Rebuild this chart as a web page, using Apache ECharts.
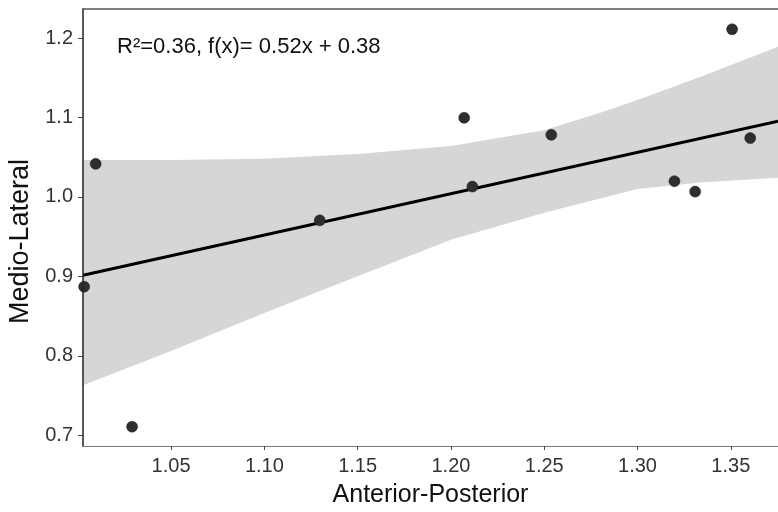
<!DOCTYPE html>
<html>
<head>
<meta charset="utf-8">
<script src="https://cdn.jsdelivr.net/npm/echarts@6/dist/echarts.min.js"></script>
<style>
html,body{margin:0;padding:0;background:#fff;}
#chart{width:778px;height:512px;}
</style>
</head>
<body>
<div id="chart"></div>
<script>
// ---- data ----
const anteriorPosterior = [1.0034, 1.0096, 1.0291, 1.1297, 1.2071, 1.2115, 1.2538, 1.3198, 1.3309, 1.3507, 1.3604];
const medioLateral      = [0.887, 1.0416, 0.7108, 0.9705, 1.0996, 1.0130, 1.0782, 1.0198, 1.0067, 1.2110, 1.0740];

// confidence band (read from shaded region)
const bandX     = [1.0028, 1.05, 1.10, 1.15, 1.20, 1.25, 1.28, 1.30, 1.3335, 1.3753];
const bandUpper = [1.0466, 1.0466, 1.048, 1.054, 1.064, 1.084, 1.106, 1.122, 1.151, 1.189];
const bandLower = [0.763, 0.806, 0.854, 0.900, 0.946, 0.980, 0.998, 1.010, 1.018, 1.024];

// fit
const fitSlope = 0.52;
const fitIntercept = 0.38;
const fitR2 = 0.36;
const annotationText = 'R²=0.36, f(x)= 0.52x + 0.38';

// axes
const xMin = 1.0028, xMax = 1.3753;
const yMin = 0.6865, yMax = 1.2365;
const xTicks = [1.05, 1.10, 1.15, 1.20, 1.25, 1.30, 1.35];
const xTickLabels = ['1.05', '1.10', '1.15', '1.20', '1.25', '1.30', '1.35'];
const yTicks = [0.7, 0.8, 0.9, 1.0, 1.1, 1.2];
const yTickLabels = ['0.7', '0.8', '0.9', '1.0', '1.1', '1.2'];
const xTitle = 'Anterior-Posterior';
const yTitle = 'Medio-Lateral';

function labelFor(ticks, labels, v) {
  for (let i = 0; i < ticks.length; i++) if (Math.abs(ticks[i] - v) < 1e-9) return labels[i];
  return '';
}

const points = anteriorPosterior.map((x, i) => [x, medioLateral[i]]);
const fitLine = [[xMin, fitSlope * xMin + fitIntercept], [xMax, fitSlope * xMax + fitIntercept]];

const FONT = '"Liberation Sans", Arial, sans-serif';
const chart = echarts.init(document.getElementById('chart'), null, {renderer: 'canvas'});

chart.setOption({
  animation: false,
  backgroundColor: '#ffffff',
  grid: {left: 83, right: 0, top: 9, bottom: 66, containLabel: false, outerBoundsMode: 'none'},
  xAxis: [{
    type: 'value', min: xMin, max: xMax, position: 'bottom', z: 10,
    name: xTitle, nameLocation: 'middle', nameGap: 37,
    nameTextStyle: {fontFamily: FONT, fontSize: 25, color: '#111'},
    splitLine: {show: false},
    axisLine: {show: true, onZero: false, lineStyle: {color: '#777', width: 1.2}},
    axisTick: {show: true, length: 4, customValues: xTicks, lineStyle: {color: '#444', width: 1}},
    axisLabel: {customValues: xTicks, margin: 10, fontFamily: FONT, fontSize: 20, color: '#333',
      formatter: v => labelFor(xTicks, xTickLabels, v)}
  }, {
    type: 'value', min: xMin, max: xMax, position: 'top', z: 10,
    axisLine: {show: true, onZero: false, lineStyle: {color: '#555', width: 1.5}},
    axisTick: {show: false}, axisLabel: {show: false}, splitLine: {show: false}
  }],
  yAxis: [{
    type: 'value', min: yMin, max: yMax, z: 10,
    name: yTitle, nameLocation: 'middle', nameGap: 40,
    nameTextStyle: {fontFamily: FONT, fontSize: 27, color: '#111', padding: [0, 28, 0, 0]},
    splitLine: {show: false},
    axisLine: {show: true, onZero: false, lineStyle: {color: '#222', width: 1.5}},
    axisTick: {show: true, length: 5, customValues: yTicks, lineStyle: {color: '#444', width: 1}},
    axisLabel: {customValues: yTicks, margin: 10, fontFamily: FONT, fontSize: 20, color: '#333',
      formatter: v => labelFor(yTicks, yTickLabels, v)}
  }],
  graphic: [{
    type: 'text', left: 117, top: 36, z: 100,
    style: {text: annotationText, font: '22px ' + FONT, fill: '#111'}
  }],
  series: [{
    type: 'custom',
    name: 'band',
    coordinateSystem: 'cartesian2d',
    clip: true,
    z: 1,
    data: [[bandX[0], bandUpper[0]]],
    renderItem: function (params, api) {
      const pts = [];
      for (let i = 0; i < bandX.length; i++) pts.push(api.coord([bandX[i], bandUpper[i]]));
      for (let i = bandX.length - 1; i >= 0; i--) pts.push(api.coord([bandX[i], bandLower[i]]));
      return {type: 'polygon', shape: {points: pts, smooth: 0}, style: {fill: '#d6d6d6', stroke: null}};
    }
  }, {
    type: 'line',
    name: 'fit',
    data: fitLine,
    symbol: 'none',
    z: 3,
    lineStyle: {color: '#000', width: 3}
  }, {
    type: 'scatter',
    name: 'points',
    data: points,
    symbolSize: 11,
    z: 4,
    itemStyle: {color: '#2e2e2e', borderColor: '#1a1a1a', borderWidth: 0.5, opacity: 1}
  }]
});
</script>
</body>
</html>
